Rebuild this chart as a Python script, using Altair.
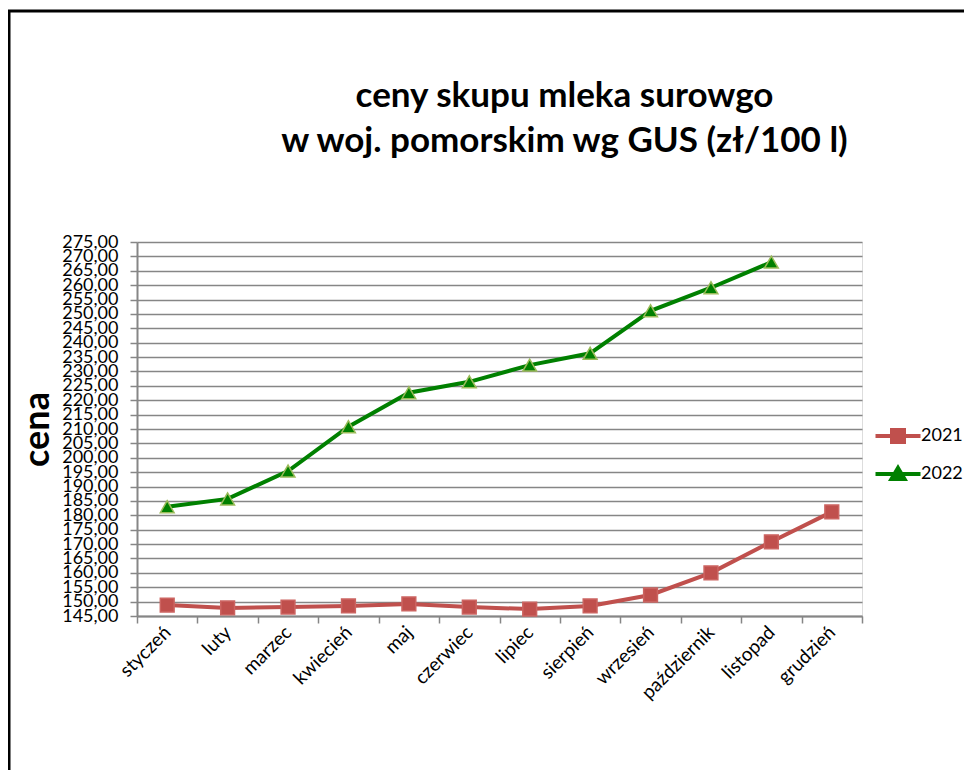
import altair as alt
import pandas as pd

months = ["styczeń", "luty", "marzec", "kwiecień", "maj", "czerwiec",
          "lipiec", "sierpień", "wrzesień", "październik", "listopad", "grudzień"]
year_2021 = [148.8, 147.8, 148.1, 148.5, 149.2, 148.1, 147.4, 148.5, 152.3, 160.0, 170.8, 181.2]
year_2022 = [183.0, 185.7, 195.4, 210.8, 222.6, 226.4, 232.2, 236.3, 251.1, 259.1, 268.0, None]
y_ticks = list(range(145, 280, 5))
series = ["2021", "2022"]
line_colors = ["#C0504D", "#008000"]
point_fill = ["#C0504D", "#008000"]
point_stroke = ["#CC6461", "#9BBB59"]
point_shapes = ["square", "triangle-up"]
legend_shapes = [
    "M-2.25,0L2.25,0M-0.6,-0.6L0.6,-0.6L0.6,0.6L-0.6,0.6Z",
    "M-2.25,0L2.25,0M0,-0.6L0.65,0.5L-0.65,0.5Z",
]

FONT = "Lato"
GRID = "#868686"

rows = []
for name, vals in zip(series, [year_2021, year_2022]):
    for m, v in zip(months, vals):
        if v is not None:
            rows.append({"miesiąc": m, "rok": name, "cena": v})
df = pd.DataFrame(rows)

x_enc = alt.X("miesiąc:N", sort=months,
              scale=alt.Scale(type="band", paddingInner=0, paddingOuter=0),
              axis=alt.Axis(title=None, labelAngle=315, labelAlign="right",
                            labelBaseline="middle", labelFontSize=19, labelFont=FONT,
                            labelColor="black", labelPadding=6, tickBand="extent",
                            tickSize=7, tickColor=GRID, tickWidth=1.5,
                            domainColor=GRID, domainWidth=2, grid=False,
                            labelOverlap=False))
y_enc = alt.Y("cena:Q",
              scale=alt.Scale(domain=[145, 275], nice=False, zero=False),
              axis=alt.Axis(values=y_ticks,
                            labelExpr="replace(format(datum.value, '.2f'), '.', ',')",
                            labelFontSize=18, labelFont=FONT, labelColor="black",
                            labelPadding=12, labelOverlap=False,
                            tickSize=7, tickColor=GRID, tickWidth=1.5,
                            domainColor=GRID, domainWidth=2,
                            grid=True, gridColor=GRID, gridWidth=1.5,
                            title="cena", titleFontSize=36, titleFont=FONT,
                            titleFontWeight="bold", titleColor="black",
                            titleAngle=270, titleAlign="center",
                            titleBaseline="bottom", titleX=-81, titleY=187))

base = alt.Chart(df)

lines = base.mark_line(strokeWidth=4).encode(
    x=x_enc, y=y_enc,
    color=alt.Color("rok:N", scale=alt.Scale(domain=series, range=line_colors), legend=None),
)

points = base.mark_point(filled=True, size=190, strokeWidth=1.5, opacity=1).encode(
    x=x_enc, y=y_enc,
    shape=alt.Shape("rok:N", scale=alt.Scale(domain=series, range=point_shapes), legend=None),
    fill=alt.Fill("rok:N", scale=alt.Scale(domain=series, range=point_fill), legend=None),
    stroke=alt.Stroke("rok:N", scale=alt.Scale(domain=series, range=point_stroke), legend=None),
)

leg = alt.Legend(title=None, orient="none", legendX=749, legendY=182, padding=0,
                 symbolSize=400, symbolStrokeWidth=4, symbolOpacity=1,
                 labelFontSize=18, labelFont=FONT, labelColor="black",
                 labelOffset=11, rowPadding=10)

legend_layer = base.mark_point(filled=True, opacity=0).encode(
    x=x_enc, y=y_enc,
    shape=alt.Shape("rok:N", scale=alt.Scale(domain=series, range=legend_shapes), legend=leg),
    fill=alt.Fill("rok:N", scale=alt.Scale(domain=series, range=line_colors), legend=leg),
    stroke=alt.Stroke("rok:N", scale=alt.Scale(domain=series, range=line_colors), legend=leg),
)

frame_df = pd.DataFrame({"k": [0]})
frame_top = alt.Chart(frame_df).mark_rule(color="black", strokeWidth=3).encode(
    x=alt.value(-129), x2=alt.value(830), y=alt.value(-231))
frame_left = alt.Chart(frame_df).mark_rule(color="black", strokeWidth=3).encode(
    x=alt.value(-128), y=alt.value(-232), y2=alt.value(530))

chart = alt.layer(lines, points, legend_layer, frame_top, frame_left).resolve_scale(
    color="independent", fill="independent", stroke="independent", shape="independent"
).properties(
    width=725, height=374,
    padding={"left": 129, "top": 234, "right": 102, "bottom": 154},
    autosize=alt.AutoSizeParams(type="none"),
    title=alt.TitleParams(
        text=["ceny skupu mleka surowgo", "w woj. pomorskim wg GUS (zł/100 l)"],
        fontSize=35, font=FONT, fontWeight="bold", color="black",
        anchor="middle", dx=65, offset=-150, lineHeight=45),
).configure_view(stroke=None).configure(background="white")

chart.save("out.html", embed_options={"renderer": "svg", "actions": False})
